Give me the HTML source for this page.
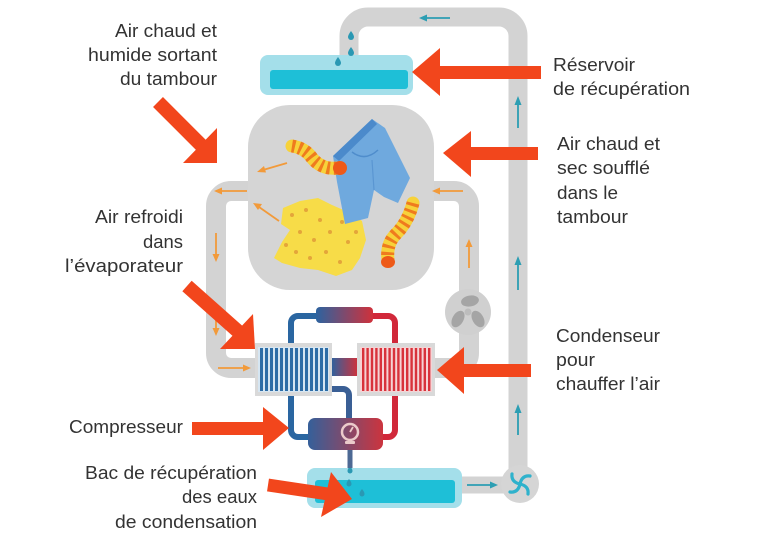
<!DOCTYPE html>
<html><head><meta charset="utf-8"><style>
html,body{margin:0;padding:0;background:#fff;}
svg{display:block;}
text{font-family:"Liberation Sans",sans-serif;font-size:18px;fill:#333;}
</style></head><body>
<svg width="760" height="538" viewBox="0 0 760 538" xmlns="http://www.w3.org/2000/svg">
<defs>
<linearGradient id="br" x1="0" x2="1" y1="0" y2="0"><stop offset="0" stop-color="#2c63a0"/><stop offset="1" stop-color="#d0313b"/></linearGradient>
<linearGradient id="br2" x1="0" x2="1" y1="0" y2="0"><stop offset="0" stop-color="#35609a"/><stop offset="1" stop-color="#cc343e"/></linearGradient>
</defs>

<!-- big right water loop -->
<path d="M349 60 V36 A19 19 0 0 1 368 17 H499 A19 19 0 0 1 518 36 V484" fill="none" stroke="#d3d3d3" stroke-width="19"/>
<path d="M455 485 H518" stroke="#d3d3d3" stroke-width="17"/>

<!-- air loops -->
<path d="M252 191 H231 A15 15 0 0 0 216 206 V353 A15 15 0 0 0 231 368 H258" fill="none" stroke="#d3d3d3" stroke-width="20"/>
<path d="M430 191 H454 A15 15 0 0 1 469 206 V353 A15 15 0 0 1 454 368 H433" fill="none" stroke="#d3d3d3" stroke-width="20"/>

<!-- drum -->
<rect x="248" y="105" width="186" height="185" rx="42" fill="#d5d5d5"/>

<!-- fan -->
<circle cx="468" cy="312" r="23" fill="#d0d0d0"/>
<g fill="#a5a5a5">
<ellipse cx="470" cy="301" rx="9" ry="5.5" transform="rotate(-10 470 301)"/>
<ellipse cx="478" cy="319" rx="9" ry="5.5" transform="rotate(60 478 319)"/>
<ellipse cx="458" cy="319" rx="9" ry="5.5" transform="rotate(-60 458 319)"/>
<circle cx="468" cy="312" r="3.5" fill="#bdbdbd"/>
</g>

<!-- pump -->
<circle cx="520" cy="484" r="19" fill="#d5d5d5"/>
<g fill="none" stroke="#2fb2cc" stroke-width="3.2" stroke-linecap="round">
<path d="M520 484 q2 -9 10 -8"/>
<path d="M520 484 q9 2 8 10"/>
<path d="M520 484 q-2 9 -10 8"/>
<path d="M520 484 q-9 -2 -8 -10"/>
</g>

<!-- reservoirs -->
<rect x="260" y="55" width="153" height="40" rx="8" fill="#a4dfea"/>
<rect x="270" y="70" width="138" height="19" rx="3" fill="#1ebfd7"/>
<rect x="307" y="468" width="155" height="40" rx="8" fill="#a4dfea"/>
<rect x="315" y="480" width="140" height="23" rx="3" fill="#1ebfd7"/>

<!-- drops -->
<g fill="#2a98b3">
<path d="M351 31 q3 4 3 6 a3 3 0 0 1 -6 0 q0 -2 3 -6z"/>
<path d="M351 47 q3 4 3 6 a3 3 0 0 1 -6 0 q0 -2 3 -6z"/>
<path d="M338 57 q3 4 3 6 a3 3 0 0 1 -6 0 q0 -2 3 -6z"/>
<path d="M350 466 q2.5 3 2.5 5 a2.5 2.5 0 0 1 -5 0 q0 -2 2.5 -5z"/>
<path d="M349 479 q2.5 3 2.5 5 a2.5 2.5 0 0 1 -5 0 q0 -2 2.5 -5z"/>
<path d="M362 489 q2.5 3 2.5 5 a2.5 2.5 0 0 1 -5 0 q0 -2 2.5 -5z"/>
</g>

<!-- refrigerant circuit -->
<path d="M291 345 V323 A7 7 0 0 1 298 316 H320" fill="none" stroke="#2a66a1" stroke-width="6"/>
<path d="M370 316 H388 A7 7 0 0 1 395 323 V345" fill="none" stroke="#d1283a" stroke-width="6"/>
<rect x="316" y="307" width="57" height="16" rx="4" fill="url(#br)"/>
<path d="M291 394 V430 A7 7 0 0 0 298 437 H312" fill="none" stroke="#2a66a1" stroke-width="6"/>
<path d="M395 394 V430 A7 7 0 0 1 388 437 H378" fill="none" stroke="#d1283a" stroke-width="6"/>
<path d="M330 389 H343 A6 6 0 0 1 349 395 V420" fill="none" stroke="#3a5f95" stroke-width="6"/>
<rect x="331" y="358" width="27" height="18" fill="url(#br)"/>
<rect x="347.5" y="449" width="5" height="19" fill="#4d6994"/>
<rect x="308" y="418" width="75" height="32" rx="7" fill="url(#br2)"/>
<circle cx="350" cy="432" r="8" fill="none" stroke="#ebcaca" stroke-width="2.5"/>
<path d="M350 432 L353 427" stroke="#ebcaca" stroke-width="1.8"/>
<rect x="345" y="441" width="10" height="3" rx="1" fill="#ebcaca"/>

<!-- evaporator -->
<rect x="255" y="343" width="77" height="53" fill="#d9d9d9"/>
<rect x="258" y="347" width="71" height="45" fill="#d6e6f2"/>
<g fill="#2e6da6">
<rect x="260" y="348" width="3" height="43"/><rect x="265" y="348" width="3" height="43"/><rect x="270" y="348" width="3" height="43"/><rect x="275" y="348" width="3" height="43"/><rect x="280" y="348" width="3" height="43"/><rect x="285" y="348" width="3" height="43"/><rect x="290" y="348" width="3" height="43"/><rect x="295" y="348" width="3" height="43"/><rect x="300" y="348" width="3" height="43"/><rect x="305" y="348" width="3" height="43"/><rect x="310" y="348" width="3" height="43"/><rect x="315" y="348" width="3" height="43"/><rect x="320" y="348" width="3" height="43"/><rect x="325" y="348" width="3" height="43"/>
</g>
<!-- condenser -->
<rect x="357" y="343" width="78" height="53" fill="#d9d9d9"/>
<rect x="360" y="347" width="72" height="45" fill="#f5d3d5"/>
<g fill="#d8323b">
<rect x="362" y="348" width="2.4" height="43"/><rect x="366.4" y="348" width="2.4" height="43"/><rect x="370.8" y="348" width="2.4" height="43"/><rect x="375.2" y="348" width="2.4" height="43"/><rect x="379.6" y="348" width="2.4" height="43"/><rect x="384" y="348" width="2.4" height="43"/><rect x="388.4" y="348" width="2.4" height="43"/><rect x="392.8" y="348" width="2.4" height="43"/><rect x="397.2" y="348" width="2.4" height="43"/><rect x="401.6" y="348" width="2.4" height="43"/><rect x="406" y="348" width="2.4" height="43"/><rect x="410.4" y="348" width="2.4" height="43"/><rect x="414.8" y="348" width="2.4" height="43"/><rect x="419.2" y="348" width="2.4" height="43"/><rect x="423.6" y="348" width="2.4" height="43"/><rect x="428" y="348" width="2.4" height="43"/>
</g>

<!-- clothes -->
<!-- shirt -->
<path d="M283 208 L300 201 L318 198 L332 205 L348 212 L362 221 L366 240 L360 258 L352 270 L336 276 L318 270 L300 268 L282 263 L274 258 L282 242 L290 230 L281 224 Z" fill="#f7dc48"/>
<g fill="#e4a53a">
<circle cx="292" cy="215" r="2"/><circle cx="306" cy="210" r="2"/><circle cx="320" cy="220" r="2"/><circle cx="300" cy="232" r="2"/><circle cx="314" cy="240" r="2"/><circle cx="330" cy="232" r="2"/><circle cx="342" cy="222" r="2"/><circle cx="348" cy="242" r="2"/><circle cx="296" cy="252" r="2"/><circle cx="310" cy="258" r="2"/><circle cx="326" cy="252" r="2"/><circle cx="340" cy="262" r="2"/><circle cx="356" cy="232" r="2"/><circle cx="286" cy="245" r="2"/>
</g>
<!-- shorts -->
<path d="M333 156 L372 119 L385 128 L410 178 L398 203 L384 197 L374 190 L368 218 L345 224 L337 182 Z" fill="#6fa9de"/>
<path d="M333 156 L372 119 L377 124 L339 161 Z" fill="#4b8acb"/>
<path d="M352 152 Q365 162 378 150" fill="none" stroke="#4f8dcc" stroke-width="1.5"/>
<path d="M374 190 L372 160" fill="none" stroke="#5a96d2" stroke-width="1.2"/>
<!-- top sock -->
<path d="M292 146 Q305 148 312 158 Q322 170 338 168" fill="none" stroke="#f7d23a" stroke-width="13" stroke-linecap="round"/>
<path d="M292 146 Q305 148 312 158 Q322 170 338 168" fill="none" stroke="#ef7b1e" stroke-width="13" stroke-dasharray="3 4"/>
<ellipse cx="340" cy="168" rx="7" ry="7" fill="#ee5a18"/>
<!-- right sock -->
<path d="M413 203 Q408 222 396 234 Q386 244 388 260" fill="none" stroke="#f7d23a" stroke-width="13" stroke-linecap="round"/>
<path d="M413 203 Q408 222 396 234 Q386 244 388 260" fill="none" stroke="#ef7b1e" stroke-width="13" stroke-dasharray="3 4"/>
<ellipse cx="388" cy="262" rx="7" ry="6" fill="#ee5a18"/>

<!-- orange flow arrows -->
<g stroke="#f29a3a" stroke-width="1.8" fill="#f29a3a">
<line x1="247" y1="191" x2="220" y2="191"/><path d="M214 191 l8 -3.5 v7z" stroke="none"/>
<line x1="463" y1="191" x2="438" y2="191"/><path d="M432 191 l8 -3.5 v7z" stroke="none"/>
<line x1="216" y1="233" x2="216" y2="255"/><path d="M216 262 l-3.5 -8 h7z" stroke="none"/>
<line x1="216" y1="320" x2="216" y2="329"/><path d="M216 336 l-3.5 -8 h7z" stroke="none"/>
<line x1="218" y1="368" x2="244" y2="368"/><path d="M251 368 l-8 -3.5 v7z" stroke="none"/>
<line x1="469" y1="268" x2="469" y2="246"/><path d="M469 239 l-3.5 8 h7z" stroke="none"/>
<line x1="287" y1="163" x2="263" y2="170"/><path d="M257 172 l7 -6 l2 6.5z" stroke="none"/>
<line x1="279" y1="221" x2="259" y2="207"/><path d="M253 203 l9 1 l-4 6z" stroke="none"/>
</g>

<!-- teal flow arrows -->
<g stroke="#2c9eb3" stroke-width="1.8" fill="#2c9eb3">
<line x1="450" y1="18" x2="426" y2="18"/><path d="M419 18 l8 -3.5 v7z" stroke="none"/>
<line x1="518" y1="128" x2="518" y2="104"/><path d="M518 96 l-3.5 9 h7z" stroke="none"/>
<line x1="518" y1="290" x2="518" y2="264"/><path d="M518 256 l-3.5 9 h7z" stroke="none"/>
<line x1="518" y1="435" x2="518" y2="412"/><path d="M518 404 l-3.5 9 h7z" stroke="none"/>
<line x1="467" y1="485" x2="491" y2="485"/><path d="M498 485 l-8 -3.5 v7z" stroke="none"/>
</g>

<!-- big red arrows -->
<g fill="#f2461c" stroke="none">
<rect x="436" y="66" width="105" height="13"/><path d="M412 72 L440 48 L440 96 Z"/>
<rect x="468" y="147" width="70" height="13"/><path d="M443 153 L471 131 L471 177 Z"/>
<rect x="461" y="364" width="70" height="13"/><path d="M437 370 L464 347 L464 394 Z"/>
<rect x="192" y="422" width="73" height="13"/><path d="M289 428 L263 407 L263 450 Z"/>
<path d="M158 102 L206 150" stroke="#f2461c" stroke-width="14"/>
<path d="M217 163 L183 163 L217 128 Z"/>
<path d="M187 286 L241 334" stroke="#f2461c" stroke-width="14"/>
<path d="M255 349 L220 349 L253 314 Z"/>
<path d="M268 485 L328 494" stroke="#f2461c" stroke-width="13"/>
<path d="M352 499 L321 517 L331 472 Z"/>
</g>

<!-- labels -->
<text x="115" y="37" textLength="102" lengthAdjust="spacingAndGlyphs">Air chaud et</text>
<text x="88" y="61" textLength="129" lengthAdjust="spacingAndGlyphs">humide sortant</text>
<text x="120" y="85" textLength="97" lengthAdjust="spacingAndGlyphs">du tambour</text>
<text x="95" y="223" textLength="88" lengthAdjust="spacingAndGlyphs">Air refroidi</text>
<text x="143" y="248" textLength="40" lengthAdjust="spacingAndGlyphs">dans</text>
<text x="65" y="272" textLength="118" lengthAdjust="spacingAndGlyphs">l’évaporateur</text>
<text x="69" y="433" textLength="114" lengthAdjust="spacingAndGlyphs">Compresseur</text>
<text x="85" y="479" textLength="172" lengthAdjust="spacingAndGlyphs">Bac de récupération</text>
<text x="182" y="503" textLength="75" lengthAdjust="spacingAndGlyphs">des eaux</text>
<text x="115" y="528" textLength="142" lengthAdjust="spacingAndGlyphs">de condensation</text>

<text x="553" y="71" textLength="82" lengthAdjust="spacingAndGlyphs">Réservoir</text>
<text x="553" y="95" textLength="137" lengthAdjust="spacingAndGlyphs">de récupération</text>
<text x="557" y="150" textLength="103" lengthAdjust="spacingAndGlyphs">Air chaud et</text>
<text x="557" y="174" textLength="93" lengthAdjust="spacingAndGlyphs">sec soufflé</text>
<text x="557" y="199" textLength="61" lengthAdjust="spacingAndGlyphs">dans le</text>
<text x="557" y="223" textLength="71" lengthAdjust="spacingAndGlyphs">tambour</text>
<text x="556" y="342" textLength="104" lengthAdjust="spacingAndGlyphs">Condenseur</text>
<text x="556" y="366" textLength="39" lengthAdjust="spacingAndGlyphs">pour</text>
<text x="556" y="390" textLength="104" lengthAdjust="spacingAndGlyphs">chauffer l’air</text>
</svg>
</body></html>
